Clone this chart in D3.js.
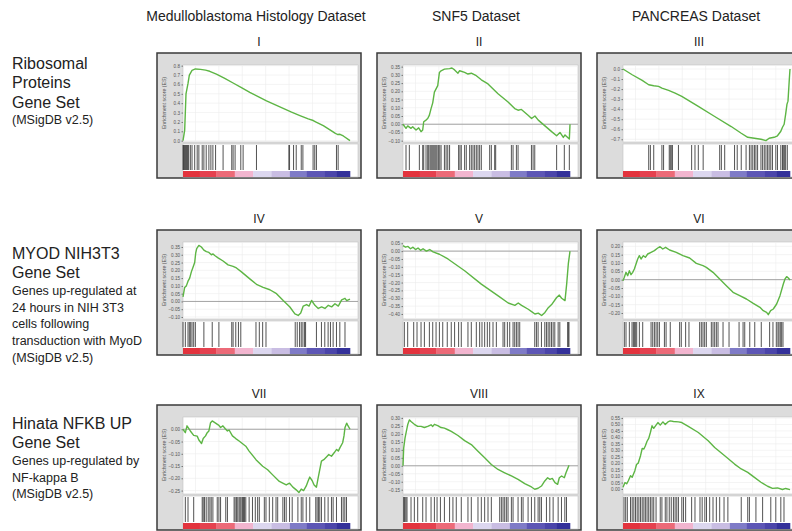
<!DOCTYPE html>
<html>
<head>
<meta charset="utf-8">
<script src="https://cdn.jsdelivr.net/npm/d3@7"></script>
<style>
  body { margin: 0; background: #fff; }
  svg { display: block; font-family: "Liberation Sans", Arial, sans-serif; }
</style>
</head>
<body>
<div id="container"></div>
<script>
// column and row labels
const datasets = ["Medulloblastoma Histology Dataset", "SNF5 Dataset", "PANCREAS Dataset"];
const numerals = ["I", "II", "III", "IV", "V", "VI", "VII", "VIII", "IX"];
const geneSetTitles = [
  ["Ribosomal", "Proteins", "Gene Set"],
  ["MYOD NIH3T3", "Gene Set"],
  ["Hinata NFKB UP", "Gene Set"]
];
const geneSetNotes = [
  ["(MSigDB v2.5)"],
  ["Genes up-regulated at", "24 hours in NIH 3T3", "cells following", "transduction with MyoD", "(MSigDB v2.5)"],
  ["Genes up-regulated by", "NF-kappa B", "(MSigDB v2.5)"]
];

// running enrichment score: [rank %, ES]
const esI = [[0,0],[1,0.11],[1.8,0.5],[3,0.61],[3.8,0.70],[5.4,0.75],[7.4,0.765],[10.5,0.76],[13.5,0.752],[16,0.74],[20,0.71],[25,0.665],[30,0.615],[35,0.565],[40,0.515],[45,0.47],[50,0.425],[55,0.385],[60,0.345],[65,0.305],[70,0.268],[75,0.232],[78,0.215],[80,0.195],[84,0.16],[88,0.115],[91,0.08],[92.5,0.066],[94,0.068],[96,0.05],[100,0]];
const esII = [[0,0],[1.8,-0.025],[2.8,-0.01],[4.8,-0.025],[5.8,-0.015],[7.8,-0.035],[9.4,-0.022],[10.8,-0.045],[11.8,-0.035],[12.4,0.015],[13.8,0.025],[14.8,0.035],[15.8,0.055],[16.8,0.095],[17.8,0.13],[18.8,0.195],[19.8,0.215],[20.8,0.235],[21.8,0.315],[22.8,0.325],[24.8,0.335],[27.9,0.338],[29.3,0.342],[30.9,0.33],[32.9,0.31],[33.9,0.325],[36.9,0.315],[38.9,0.305],[40.9,0.31],[43.9,0.295],[46.9,0.27],[50.9,0.245],[56.9,0.185],[62.9,0.135],[66.9,0.095],[68.9,0.085],[70.9,0.09],[74.9,0.055],[77,0.035],[79,0.05],[81,0.025],[85,-0.01],[89,-0.045],[92,-0.07],[94,-0.05],[96,-0.08],[97,-0.065],[99.6,-0.09],[100,0]];
const esIII = [[0,0],[5.5,-0.057],[11.5,-0.113],[15.4,-0.157],[18.4,-0.167],[21.3,-0.173],[23.3,-0.19],[27.3,-0.213],[31.2,-0.24],[35.2,-0.273],[45.1,-0.373],[54.9,-0.473],[64.8,-0.573],[70.8,-0.64],[74.7,-0.68],[78.7,-0.69],[82.6,-0.70],[85.6,-0.713],[87.5,-0.69],[90.5,-0.68],[92.5,-0.665],[94.5,-0.62],[95.5,-0.58],[96.5,-0.55],[97.4,-0.45],[98.2,-0.35],[98.8,-0.32],[99.6,-0.1],[100,0]];
const esIV = [[0,0.03],[1,0.09],[2,0.10],[3,0.13],[4,0.15],[5,0.19],[6,0.22],[7,0.25],[7.6,0.31],[8.2,0.34],[9.5,0.36],[11,0.35],[12.5,0.33],[14,0.32],[15.5,0.315],[17,0.30],[18,0.305],[19,0.295],[21,0.28],[24,0.26],[27,0.235],[30,0.225],[32,0.215],[35,0.19],[40,0.145],[44,0.11],[48,0.09],[52,0.075],[56,0.05],[60,0.006],[64,-0.036],[67,-0.08],[69,-0.09],[70.5,-0.075],[72,-0.03],[74,-0.02],[75.5,-0.03],[77,0.006],[79,-0.025],[81,-0.045],[83,-0.035],[85,-0.045],[87,-0.025],[89,-0.035],[91,-0.015],[93,-0.03],[95,0.01],[97,0.02],[98,0.005],[100,0.015]];
const esV = [[0,0.035],[1.5,0.025],[3,0.03],[4.5,0.015],[6,0.025],[7.5,0.01],[9,0.02],[10.5,0.005],[12,0.015],[14,0],[16,0.01],[18,-0.005],[21.8,-0.02],[26.9,-0.05],[36.9,-0.125],[46.9,-0.21],[57,-0.285],[63,-0.33],[67,-0.345],[69,-0.33],[71,-0.345],[75,-0.37],[77,-0.385],[79,-0.40],[81,-0.395],[83,-0.41],[85,-0.39],[87,-0.36],[89,-0.34],[92,-0.295],[93.6,-0.28],[95,-0.3],[97,-0.315],[98,-0.21],[99,-0.08],[100,0]];
const esVI = [[0,-0.006],[0.8,0.014],[1.8,0.044],[2.8,0.024],[3.8,0.054],[4.8,0.03],[5.8,0.044],[6.8,0.064],[7.8,0.094],[8.8,0.124],[9.8,0.144],[10.8,0.124],[12.2,0.144],[13.4,0.134],[14.8,0.154],[16.8,0.164],[18.8,0.174],[20.8,0.19],[22.2,0.198],[23.8,0.184],[25.5,0.194],[27.9,0.178],[31.9,0.164],[35.9,0.144],[39.9,0.13],[43.9,0.098],[47.9,0.084],[49.9,0.074],[53.9,0.044],[57.9,0.004],[61.9,-0.036],[65.9,-0.076],[69.9,-0.096],[73.9,-0.116],[78,-0.142],[82,-0.166],[84,-0.186],[86,-0.196],[87,-0.21],[88.4,-0.186],[90,-0.176],[92,-0.146],[94,-0.096],[96,-0.026],[97,0.004],[98,0.018],[99,0.01],[100,-0.002]];
const esVII = [[0,0],[1.4,-0.014],[2.4,0.014],[4.4,-0.007],[6.4,-0.025],[8.5,-0.028],[9.5,-0.044],[11.1,-0.058],[12.1,-0.038],[13.5,-0.027],[14.5,-0.014],[15.5,-0.007],[16.5,0.027],[17.5,0.034],[19.5,0.025],[21.5,0.016],[22.5,0.007],[23.9,0.014],[25.2,0.003],[26.6,-0.007],[27.6,-0.003],[29.6,-0.027],[31.6,-0.038],[33.6,-0.048],[37.6,-0.069],[39.6,-0.089],[43.7,-0.124],[47.7,-0.151],[50.7,-0.165],[53.7,-0.186],[57.7,-0.213],[61.8,-0.227],[63.8,-0.22],[65.8,-0.236],[67.8,-0.247],[69.4,-0.258],[70.8,-0.244],[72.2,-0.25],[73.8,-0.231],[74.8,-0.213],[75.9,-0.195],[77.3,-0.209],[78.5,-0.227],[79.9,-0.236],[80.9,-0.199],[81.9,-0.165],[82.9,-0.13],[84.3,-0.124],[85.9,-0.113],[87.3,-0.103],[88.9,-0.11],[90.5,-0.096],[92,-0.082],[93,-0.089],[94,-0.075],[95.6,-0.055],[96.4,-0.027],[97,0.007],[98,0.025],[98.6,0.017],[100,0]];
const esVIII = [[0,0],[0.4,0.11],[1.2,0.174],[2,0.216],[2.8,0.257],[3.8,0.288],[4.8,0.278],[6.8,0.26],[8.8,0.247],[10.8,0.247],[12.8,0.24],[14.8,0.247],[16.8,0.257],[17.8,0.247],[18.8,0.26],[20.8,0.252],[22.8,0.24],[24.8,0.236],[26.9,0.226],[28.9,0.216],[32.9,0.19],[36.9,0.158],[40.9,0.133],[44.9,0.091],[48.9,0.05],[52.9,0.008],[56.9,-0.023],[60.9,-0.044],[64.9,-0.064],[68.9,-0.085],[72.9,-0.112],[76.9,-0.133],[78.9,-0.147],[80.9,-0.141],[82.9,-0.127],[84.9,-0.095],[86.6,-0.075],[88,-0.085],[89.4,-0.079],[91,-0.106],[92.6,-0.116],[93.6,-0.075],[95,-0.064],[96.6,-0.075],[97.6,-0.044],[98.4,-0.023],[99.4,0.004]];
const esIX = [[0,0.013],[1.2,0.05],[2.2,0.04],[3.2,0.064],[4.5,0.103],[5.5,0.09],[7.1,0.142],[8.1,0.19],[9.1,0.2],[10.5,0.258],[11.5,0.314],[12.5,0.31],[13.4,0.335],[14.4,0.37],[15.4,0.392],[16.4,0.438],[17.4,0.49],[18.4,0.47],[19.8,0.495],[20.9,0.515],[22.3,0.495],[23.9,0.52],[25.3,0.50],[26.9,0.52],[28.3,0.528],[30.2,0.523],[33.2,0.52],[35.2,0.515],[39.1,0.485],[45.1,0.438],[51,0.374],[54.9,0.322],[60.9,0.258],[66.8,0.193],[70.8,0.155],[74.7,0.129],[78.7,0.09],[82.6,0.052],[86.6,0.021],[89.5,0.005],[92.5,0.008],[95.5,-0.004],[97.4,0.004],[100,-0.005]];

// gene set hit positions (rank %)
const hitsI = [0,0.3,0.6,1,1.4,1.8,2.2,2.6,3,3.4,4.4,5.4,7,8.5,9.5,11.5,12.5,13.9,15.5,16.7,17.9,19.5,24,29.2,30,31.2,34.6,36,44,63.4,63.8,66.2,67.8,70.8,71.8,77.9,78.9,79.9,91.9,92.9];
const hitsII = [1.8,3.8,9.8,11.8,12.4,13.8,14.8,15.4,16.2,16.8,17.4,18,18.6,19.2,19.8,20.4,21.2,22,22.8,24.8,25.8,26.8,27.9,33.3,34.1,34.9,36.9,37.9,39.9,40.9,41.9,42.9,43.9,44.9,45.9,46.9,51.9,52.9,54.9,55.5,64.9,65.9,67.9,68.9,76.9,77.9,78.9,92,96.6,99.6];
const hitsIII = [15.4,16.4,18.4,23.3,24.3,27.7,28.3,28.9,29.6,33.2,41.1,43.1,45.1,48,57.9,58.9,60.9,66.8,68.4,70.8,73.7,75.7,76.7,77.7,78.7,79.6,80.6,82.6,83.6,84.6,85.6,86.6,87.5,88.5,89.5,91.5,92.5,94.5,95.5,96,96.8,97.4,98.4];
const hitsIV = [0,1.4,3,3.8,4.6,5.4,6.4,7.4,12.5,17.5,21.5,29.2,30,31.6,33.2,34.6,43.7,45.7,47.7,49.7,67.2,68.4,69.8,70.8,71.8,72.8,73.4,79.9,82.9,84.9,86.9,88.3,89.9,91.9,93.9,97];
const hitsV = [0.8,2.8,6.4,8.4,10.8,12.8,15.8,17.8,19.8,21.8,23.8,26.5,28.9,30.9,33.3,34.9,38.9,40.9,43.9,45.9,47.3,48.9,50.5,51.9,53.9,55.9,59.9,60.9,62.5,63.9,65.9,66.9,67.9,68.9,69.9,78.9,79.9,80.9,82.9,84.9,85.9,86.9,87.9,88.9,89.9,90.9,92.9,93.9,98.6,99,99.4];
const hitsVI = [0.8,1.8,3.8,5.4,6.2,6.8,7.4,8.2,9.8,11.8,16.8,17.8,18.8,19.8,20.8,21.8,24.8,25.8,28.3,33.9,34.9,37.5,39.5,45.9,46.9,47.9,48.9,49.9,52.9,53.9,54.9,55.9,56.9,59.9,63.5,69.5,71.9,72.9,75.9,78.9,82.8,87.8,89.8,91.8,92.8,93.4,94.2,95,95.8];
const hitsVII = [1.4,3,6.4,11.5,12.1,12.9,13.9,15.1,16.1,16.9,17.9,20.5,21.5,22.5,25.6,26.6,30.6,31.2,32,32.8,33.6,34.2,34.8,35.6,36.2,36.8,37.6,39.6,41.6,43.3,44.7,45.7,48.7,49.7,51.7,53.7,55.7,56.7,59.8,60.8,61.8,63.8,65.4,68.8,70.8,71.8,73.8,75.9,79.5,80.3,81.1,81.9,82.9,84.9,86.9,88.9,89.9,91.9,94.9,95.9,96.9,97.9];
const hitsVIII = [0.4,0.8,1.2,1.8,2.4,4.8,6.8,8.8,11.8,13.8,16.8,18.8,20.4,22.4,24.8,27.9,29.9,31.9,34.9,38.9,40.9,44.9,46.9,48.9,50.9,52.9,57.9,58.9,59.9,60.9,61.9,62.9,64.9,65.9,68.9,70.9,71.9,74.9,76.9,78.9,80.9,81.9,82.9,85.9,87.9,89.9,92.9,94.9,96.9,97.9];
const hitsIX = [0.6,1.6,2.6,4.5,5.5,6.5,7.5,8.5,9.5,10.5,11.5,12.5,13.4,14.4,15.4,16.4,17.4,18.4,19.8,22.3,23.3,25.3,26.3,27.7,28.9,30.2,31.2,32.2,33.2,35.2,36.2,37.5,41.1,43.1,46.1,47.4,49,50,51.9,53.9,55.9,57.9,60.5,62.8,70.8,74.7,75.7,79.6,83.6,88.5,91.5,94.5,96.4];

// y axis tick labels and ranges per panel
const ticksI = [0, 0.1, 0.2, 0.3, 0.4, 0.5, 0.6, 0.7, 0.8];
const ticksII = [-0.10, -0.05, 0, 0.05, 0.10, 0.15, 0.20, 0.25, 0.30, 0.35];
const ticksIII = [-0.7, -0.6, -0.5, -0.4, -0.3, -0.2, -0.1, 0];
const ticksIV = [-0.10, -0.05, 0, 0.05, 0.10, 0.15, 0.20, 0.25, 0.30, 0.35];
const ticksV = [-0.40, -0.35, -0.30, -0.25, -0.20, -0.15, -0.10, -0.05, 0, 0.05];
const ticksVI = [-0.20, -0.15, -0.10, -0.05, 0, 0.05, 0.10, 0.15, 0.20];
const ticksVII = [-0.25, -0.20, -0.15, -0.10, -0.05, 0];
const ticksVIII = [-0.15, -0.10, -0.05, 0, 0.05, 0.10, 0.15, 0.20, 0.25, 0.30];
const ticksIX = [0, 0.05, 0.10, 0.15, 0.20, 0.25, 0.30, 0.35, 0.40, 0.45, 0.50, 0.55];
const rangesY = [[-0.014, 0.807], [-0.108, 0.36], [-0.727, 0.04], [-0.113, 0.382], [-0.432, 0.058], [-0.236, 0.226], [-0.264, 0.05], [-0.177, 0.306], [-0.039, 0.558]];

// ranked list colour bar
const colorStops = [0, 10, 20, 31, 42, 53, 64, 74, 85, 92, 100];
const colorFills = ["#e3333d", "#e5414f", "#ec6a78", "#f2b5cf", "#dcd7ef", "#c9bde3", "#7f7bc7", "#5d56b5", "#4b45aa", "#34319a"];
const gridX = [7.5, 21.5, 35.5, 49.5, 63.5, 77.5, 91.5];

const panels = [
  { es: esI, hits: hitsI, ticks: ticksI, fmt: ".1f" },
  { es: esII, hits: hitsII, ticks: ticksII, fmt: ".2f" },
  { es: esIII, hits: hitsIII, ticks: ticksIII, fmt: ".1f" },
  { es: esIV, hits: hitsIV, ticks: ticksIV, fmt: ".2f" },
  { es: esV, hits: hitsV, ticks: ticksV, fmt: ".2f" },
  { es: esVI, hits: hitsVI, ticks: ticksVI, fmt: ".2f" },
  { es: esVII, hits: hitsVII, ticks: ticksVII, fmt: ".2f" },
  { es: esVIII, hits: hitsVIII, ticks: ticksVIII, fmt: ".2f" },
  { es: esIX, hits: hitsIX, ticks: ticksIX, fmt: ".2f" }
].map((p, i) => ({ ...p, num: numerals[i], range: rangesY[i] }));

const width = 792;
const height = 531;
const colX = [157, 377, 597];
const rowY = [53, 230, 405];
const panelW = 204;
const panelH = 125;

const svg = d3
  .select("#container")
  .append("svg")
  .attr("width", width)
  .attr("height", height);

// column titles
svg
  .selectAll(".col-title")
  .data(datasets)
  .enter()
  .append("text")
  .attr("class", "col-title")
  .attr("x", (d, i) => colX[i] + panelW / 2 - 3)
  .attr("y", 21)
  .attr("text-anchor", "middle")
  .attr("font-size", 14)
  .attr("fill", "#222")
  .text((d) => d);

// gene set labels on the left
const titleY = [63, 253, 423];
geneSetTitles.forEach((lines, r) => {
  let yy = titleY[r];
  lines.forEach((t) => {
    svg.append("text").attr("x", 12).attr("y", yy).attr("dy", "0.35em")
      .attr("font-size", 16).attr("fill", "#222").text(t);
    yy += 19.5;
  });
  yy -= 1.5;
  geneSetNotes[r].forEach((t) => {
    svg.append("text").attr("x", 12).attr("y", yy).attr("dy", "0.35em")
      .attr("font-size", 12.5).attr("fill", "#222").text(t);
    yy += 16.8;
  });
});

const line = (x, y) => d3.line().x((d) => x(d[0])).y((d) => y(d[1]));

panels.forEach((p, i) => {
  const L = colX[i % 3];
  const T = rowY[Math.floor(i / 3)];
  const g = svg.append("g");

  // roman numeral above panel
  g.append("text")
    .attr("x", L + panelW / 2)
    .attr("y", T - 11)
    .attr("dy", "0.35em")
    .attr("text-anchor", "middle")
    .attr("font-size", 12)
    .attr("fill", "#222")
    .text(p.num);

  // panel frame
  g.append("rect")
    .attr("x", L).attr("y", T)
    .attr("width", panelW).attr("height", panelH)
    .attr("fill", "#dcdcdc")
    .attr("stroke", "#3a3a3a")
    .attr("stroke-width", 1.5);

  const x = d3.scaleLinear().domain([0, 100]).range([L + 26, L + 193]);
  const y = d3.scaleLinear().domain(p.range).range([T + 89, T + 12]);

  // white plotting areas
  g.append("rect")
    .attr("x", L + 26).attr("y", T + 12)
    .attr("width", 175).attr("height", 77)
    .attr("fill", "#fff").attr("stroke", "#c4c4c4").attr("stroke-width", 0.6);
  g.append("rect")
    .attr("x", L + 26).attr("y", T + 91)
    .attr("width", 175).attr("height", 33)
    .attr("fill", "#fff").attr("stroke", "#c4c4c4").attr("stroke-width", 0.6);

  // grid
  g.selectAll(".gx").data(gridX).enter().append("line")
    .attr("x1", (d) => x(d)).attr("x2", (d) => x(d))
    .attr("y1", T + 12).attr("y2", T + 89)
    .attr("stroke", "#ececec").attr("stroke-width", 0.6);
  g.selectAll(".gy").data(p.ticks).enter().append("line")
    .attr("x1", L + 26).attr("x2", L + 201)
    .attr("y1", (d) => y(d)).attr("y2", (d) => y(d))
    .attr("stroke", "#ececec").attr("stroke-width", 0.6);

  // zero line
  const y0 = y(0);
  if (y0 - (T + 12) >= 8 && T + 89 - y0 >= 8) {
    g.append("line")
      .attr("x1", L + 26).attr("x2", L + 201)
      .attr("y1", y0).attr("y2", y0)
      .attr("stroke", "#9a9a9a").attr("stroke-width", 0.9);
  }

  // y axis
  const axis = d3.axisLeft(y).tickValues(p.ticks).tickFormat(d3.format(p.fmt)).tickSize(1.5).tickPadding(1.5);
  const ag = g.append("g").attr("transform", `translate(${L + 26}, 0)`).call(axis);
  ag.select(".domain").remove();
  ag.selectAll("line").attr("stroke", "#777");
  ag.selectAll("text").attr("font-size", 4.6).attr("fill", "#555").attr("font-family", "'Liberation Sans', Arial, sans-serif");

  g.append("text")
    .attr("transform", `translate(${L + 9}, ${T + 50}) rotate(-90)`)
    .attr("text-anchor", "middle")
    .attr("font-size", 5.2)
    .attr("fill", "#555")
    .text("Enrichment score (ES)");

  // running ES curve
  g.append("path")
    .datum(p.es)
    .attr("d", line(x, y))
    .attr("fill", "none")
    .attr("stroke", "#5db544")
    .attr("stroke-width", 1.4)
    .attr("stroke-linejoin", "round");

  // hit barcode
  g.selectAll(".hit").data(p.hits).enter().append("line")
    .attr("x1", (d) => x(d)).attr("x2", (d) => x(d))
    .attr("y1", T + 92).attr("y2", T + 117)
    .attr("stroke", "#404040").attr("stroke-width", 0.9);

  // ranked list colour bar
  g.selectAll(".cb").data(colorFills).enter().append("rect")
    .attr("x", (d, k) => x(colorStops[k]))
    .attr("y", T + 118)
    .attr("width", (d, k) => x(colorStops[k + 1]) - x(colorStops[k]) + 0.3)
    .attr("height", 6)
    .attr("fill", (d) => d);
});
</script>
</body>
</html>
